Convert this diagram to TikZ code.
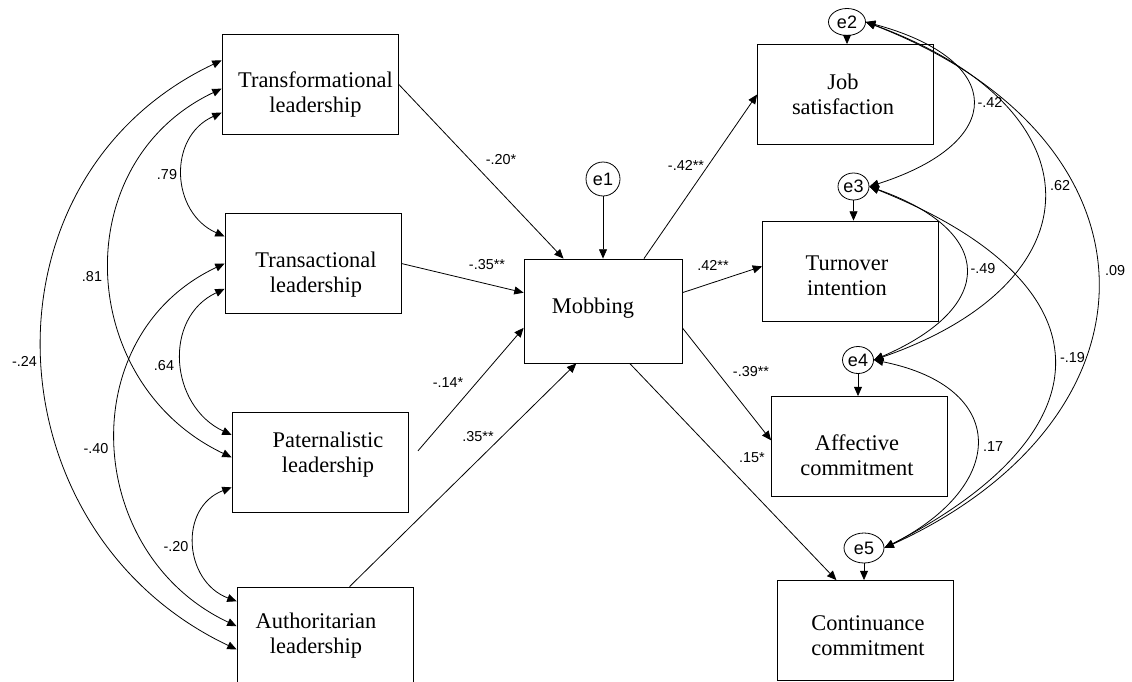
\documentclass[tikz,border=0pt]{standalone}
\usepackage{fontspec}
\setmainfont{Liberation Serif}
\setsansfont{Liberation Sans}
\usepackage{tikz}
\usetikzlibrary{%
    arrows.meta,
    positioning,
    calc,
    shapes,
    shapes.geometric
}
\newcommand{\boxfont}{\fontsize{16.8}{18.75}\selectfont}
\newcommand{\coeffont}{\sffamily\fontsize{10.8}{13}\selectfont}
\newcommand{\errfont}{\sffamily\fontsize{13.5}{16}\selectfont}

\begin{document}
\begin{tikzpicture}[x=.75pt, y=-.75pt, line width=.6pt,
    box/.style={draw, rectangle, minimum width=132pt, minimum height=75pt, inner sep=0pt},
    boxtxt/.style={font=\boxfont, align=center, inner sep=0pt},
    err/.style={draw, ellipse, inner sep=0pt, font=\errfont},
    coef/.style={font=\coeffont, inner sep=0pt},
    reg/.style={-{Triangle[length=7pt,width=6pt]}},
    cov/.style={{Triangle[length=7pt,width=6pt]}-{Triangle[length=7pt,width=6pt]}}]

      \useasboundingbox (0,0) rectangle (1132,682);

      \node[box] (l_1) at (310,84) {};
      \node[box] (l_2) at (313,263.5) {};
      \node[box] (l_3) at (320,462) {};
      \node[box] (l_4) at (325,637) {};
      \node[boxtxt] (t_1) at ($(l_1)+(5.5,10.3)$) {Transformational\\leadership};
      \node[boxtxt] (t_2) at ($(l_2)+(3,10.8)$) {Transactional\\leadership};
      \node[boxtxt] (t_3) at ($(l_3)+(8,-7.2)$) {Paternalistic\\leadership};
      \node[boxtxt] (t_4) at ($(l_4)+(-9,-1.7)$) {Authoritarian\\leadership};

      \node[box, minimum width=118.5pt, minimum height=78pt] (mob) at (603,311) {};
      \node[boxtxt] (t_m) at ($(mob)+(-10,-3.3)$) {Mobbing};
      \node[err, minimum size=25.5pt] (e_1) at (603,179) {e1};

      \node[box] (o_1) at (845.5,94.5) {};
      \node[box] (o_2) at (850.5,271) {};
      \node[box] (o_3) at (859.5,446.5) {};
      \node[box] (o_4) at (865.5,630.5) {};
      \node[boxtxt] (u_1) at ($(o_1)+(-2.5,0)$) {Job\\satisfaction};
      \node[boxtxt] (u_2) at ($(o_2)+(-3.5,4.3)$) {Turnover\\intention};
      \node[boxtxt] (u_3) at ($(o_3)+(-2.5,8.8)$) {Affective\\commitment};
      \node[boxtxt] (u_4) at ($(o_4)+(2.5,4.8)$) {Continuance\\commitment};

      \node[err, minimum width=27.75pt, minimum height=20.25pt] (e_2) at (847,22) {e2};
      \node[err, minimum width=23.25pt, minimum height=20.25pt] (e_3) at (853.5,186.5) {e3};
      \node[err, minimum width=23.25pt, minimum height=20.25pt] (e_4) at (858,360) {e4};
      \node[err, minimum width=30pt, minimum height=22.5pt] (e_5) at (864,548) {e5};

      \draw[reg] (l_1.east) -- (mob.127);
      \draw[reg] (l_2.east) -- (mob.167);
      \draw[reg, shorten <=11pt] (l_3.east) -- (mob.192);
      \draw[reg] (l_4.64) -- (mob.243);

      \draw[reg] (mob.52) -- (o_1.west);
      \draw[reg] (mob.13) -- (o_2.177);
      \draw[reg] (mob.-12) -- (o_3.176);
      \draw[reg] (mob.-63) -- (o_4.120);

      \draw[reg] (e_1) -- (mob);
      \draw[reg] (e_2.south) -- (e_2.south |- o_1.north);
      \draw[reg] (e_3.south) -- (e_3.south |- o_2.north);
      \draw[reg] (e_4.south) -- (e_4.south |- o_3.north);
      \draw[reg] (e_5.south) -- (e_5.south |- o_4.north);

      \draw[cov] (l_1.198) .. controls +(-54,24) and +(-54,-24) .. (l_2.163);
      \draw[cov] (l_1.183) .. controls +(-156,74) and +(-156,-74) .. (l_3.177);
      \draw[cov] (l_1.165) .. controls +(-249,118) and +(-249,-118) .. (l_4.188);
      \draw[cov] (l_2.196) .. controls +(-62,29) and +(-62,-29) .. (l_3.163);
      \draw[cov] (l_2.180) .. controls +(-153,72) and +(-153,-72) .. (l_4.173);
      \draw[cov] (l_3.196) .. controls +(-53,20) and +(-53,-20) .. (l_4.158);

      \draw[cov] (e_2.east) .. controls +(141,38) and +(138,-44) .. (e_3.east);
      \draw[cov] (e_2.east) .. controls +(235,86) and +(228,-79) .. (e_4.east);
      \draw[cov] (e_2.east) .. controls +(305,118) and +(287,-131) .. (e_5.east);
      \draw[cov] (e_3.east) .. controls +(127,45) and +(123,-53) .. (e_4.east);
      \draw[cov] (e_3.east) .. controls +(243,97) and +(228,-117) .. (e_5.east);
      \draw[cov] (e_4.east) .. controls +(135,27) and +(124,-63) .. (e_5.east);

      \node[coef] (c_1) at (501,160) {-.20*};
      \node[coef] (c_2) at (487,265) {-.35**};
      \node[coef] (c_3) at (448,383) {-.14*};
      \node[coef] (c_4) at (478,437) {.35**};
      \node[coef] (c_5) at (686,165) {-.42**};
      \node[coef] (c_6) at (713,265) {.42**};
      \node[coef] (c_7) at (751,372) {-.39**};
      \node[coef] (c_8) at (752,458) {.15*};

      \node[coef] (r_1) at (167,175) {.79};
      \node[coef] (r_2) at (92,277) {.81};
      \node[coef] (r_3) at (24.5,361) {-.24};
      \node[coef] (r_4) at (164,366) {.64};
      \node[coef] (r_5) at (96,449) {-.40};
      \node[coef] (r_6) at (176,547) {-.20};

      \node[coef] (s_1) at (990,102) {-.42};
      \node[coef] (s_2) at (1060,186) {.62};
      \node[coef] (s_3) at (1115,271) {.09};
      \node[coef] (s_4) at (983,269) {-.49};
      \node[coef] (s_5) at (1072.5,358) {-.19};
      \node[coef] (s_6) at (993,447) {.17};
    \end{tikzpicture}
\end{document}
